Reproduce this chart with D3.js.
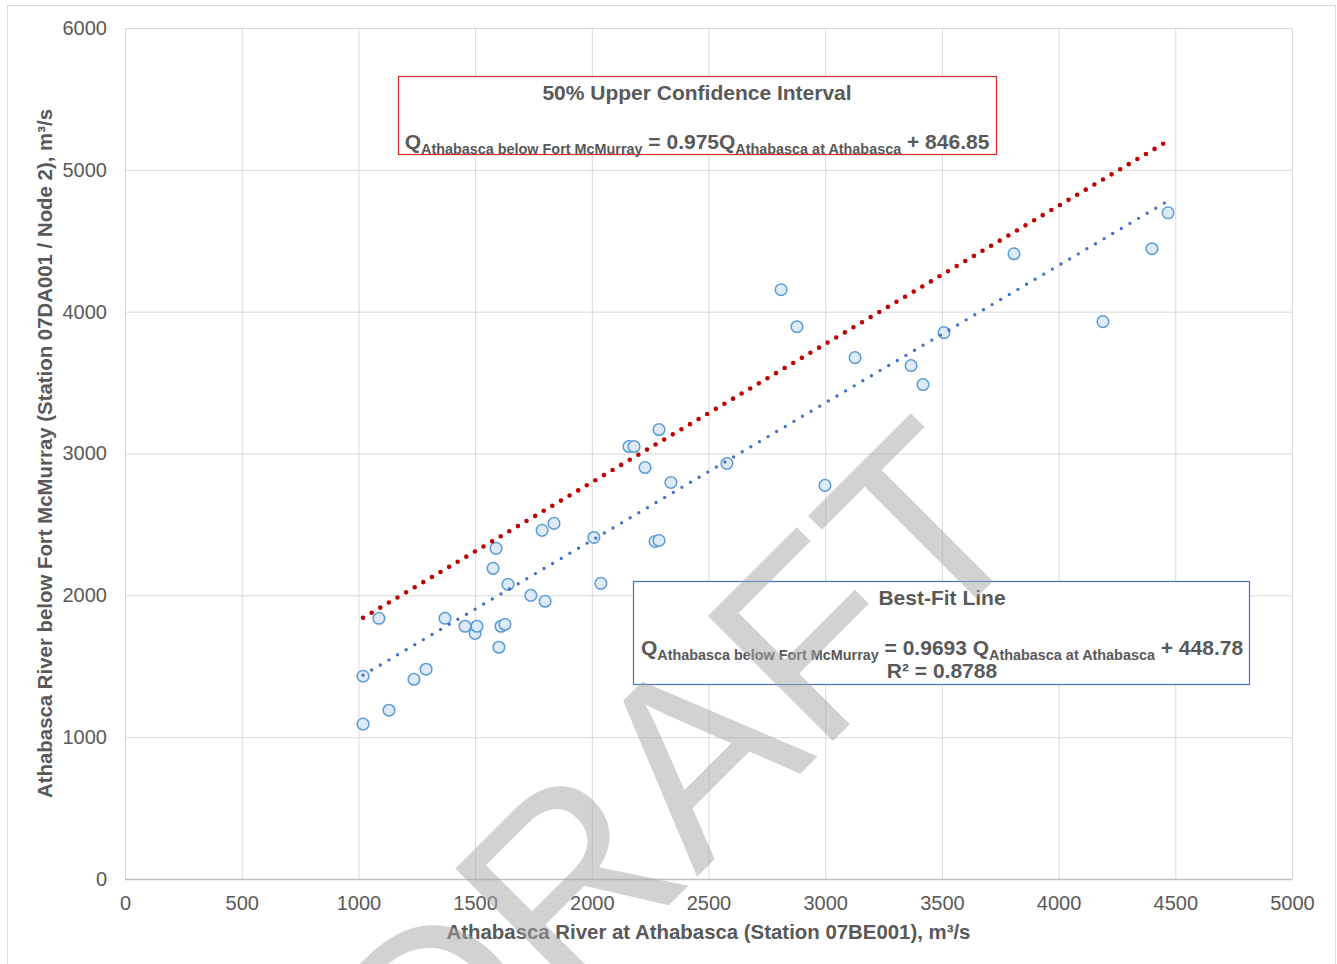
<!DOCTYPE html>
<html>
<head>
<meta charset="utf-8">
<script src="https://cdn.jsdelivr.net/npm/d3@7"></script>
<style>
body{margin:0;background:#fff;}
svg{display:block;font-family:"Liberation Sans",Arial,sans-serif;}
</style>
</head>
<body>
<svg id="chart"></svg>
<script>
// flows, m3/s : Athabasca at Athabasca (x) vs Athabasca below Fort McMurray (y)
const atAthabasca = [1020,1020,1088,1131,1238,1290,1371,1457,1500,1508,1577,1590,1602,1611,1628,1641,1739,1787,1800,1838,
    2009,2039,2159,2181,2228,2271,2288,2288,2339,2579,2811,2879,2999,3128,3368,3419,3509,3809,4190,4400,4469]
const belowFortMcMurray = [1430,1092,1838,1190,1408,1479,1838,1782,1732,1782,2190,2331,1634,1782,1796,2077,2000,2458,1958,2507,
    2408,2084,3049,3049,2901,2380,2387,3169,2796,2930,4155,3894,2775,3676,3620,3486,3852,4408,3930,4444,4697]

const xTicks = [0,500,1000,1500,2000,2500,3000,3500,4000,4500,5000]
const yTicks = [0,1000,2000,3000,4000,5000,6000]

// trendline equations
const fitSlope = 0.9693
const fitIntercept = 448.78
const fitR2 = 0.8788
const upperSlope = 0.975
const upperIntercept = 846.85

const W = 1337, H = 964
const plotL = 125, plotR = 1292, plotT = 28, plotB = 879
const textCol = '#595959'

const svg = d3.select('#chart').attr('width',W).attr('height',H)

// outer chart frame
svg.append('rect')
    .attr('x',7.5).attr('y',5.5).attr('width',1328).attr('height',H)
    .attr('fill','#fff').attr('stroke','#d9d9d9')

const x = d3.scaleLinear().domain([0,5000]).range([plotL,plotR])
const y = d3.scaleLinear().domain([0,6000]).range([plotB,plotT])

// gridlines
svg.append('g').selectAll('line').data(xTicks).join('line')
    .attr('x1',d=>x(d)+0.5).attr('x2',d=>x(d)+0.5)
    .attr('y1',plotT).attr('y2',plotB)
    .attr('stroke','#d9d9d9').attr('stroke-width',1)
svg.append('g').selectAll('line').data(yTicks).join('line')
    .attr('x1',plotL).attr('x2',plotR)
    .attr('y1',d=>y(d)+0.5).attr('y2',d=>y(d)+0.5)
    .attr('stroke',d=>d===0?'#bfbfbf':'#d9d9d9').attr('stroke-width',d=>d===0?1.5:1)

// axes (labels only)
const xAxis = d3.axisBottom(x).tickValues(xTicks).tickFormat(d3.format('d')).tickSize(0).tickPadding(17)
const yAxis = d3.axisLeft(y).tickValues(yTicks).tickFormat(d3.format('d')).tickSize(0).tickPadding(18)

const gx = svg.append('g').attr('transform',`translate(0,${plotB})`).call(xAxis)
const gy = svg.append('g').attr('transform',`translate(${plotL},0)`).call(yAxis)
;[gx,gy].forEach(g=>{
    g.select('.domain').remove()
    g.selectAll('text').attr('font-size',20).attr('fill',textCol)
        .attr('font-family','"Liberation Sans",Arial,sans-serif')
})

// axis titles
svg.append('text')
    .attr('x',(plotL+plotR)/2).attr('y',939)
    .attr('text-anchor','middle').attr('font-size',20.4).attr('font-weight','bold').attr('fill',textCol)
    .text('Athabasca River at Athabasca (Station 07BE001), m³/s')
svg.append('text')
    .attr('transform',`translate(52,${(plotT+plotB)/2}) rotate(-90)`)
    .attr('text-anchor','middle').attr('font-size',20.4).attr('font-weight','bold').attr('fill',textCol)
    .text('Athabasca River below Fort McMurray (Station 07DA001 / Node 2), m³/s')

// points
const pts = atAthabasca.map((v,i)=>[v,belowFortMcMurray[i]])
svg.append('g').selectAll('circle').data(pts).join('circle')
    .attr('cx',d=>x(d[0])).attr('cy',d=>y(d[1])).attr('r',5.8)
    .attr('fill','#deebf7').attr('stroke','#5b9bd5').attr('stroke-width',1.5)

// trendlines span the data range
const xr = d3.extent(atAthabasca)
const line = d3.line().x(d=>x(d[0])).y(d=>y(d[1]))

svg.append('path')
    .datum(xr.map(v=>[v,upperSlope*v+upperIntercept]))
    .attr('d',line).attr('fill','none')
    .attr('stroke','#c00000').attr('stroke-width',4.6)
    .attr('stroke-linecap','round').attr('stroke-dasharray','0 10')

svg.append('path')
    .datum(xr.map(v=>[v,fitSlope*v+fitIntercept]))
    .attr('d',line).attr('fill','none')
    .attr('stroke','#4472c4').attr('stroke-width',3.4)
    .attr('stroke-linecap','round').attr('stroke-dasharray','0 10')

// text boxes
function eqLine(g,cx,cy,coef,intercept,gap){
    const t = g.append('text').attr('x',cx).attr('y',cy)
        .attr('text-anchor','middle').attr('font-weight','bold').attr('fill',textCol)
        .style('white-space','pre')
    t.append('tspan').attr('font-size',21).text('Q')
    t.append('tspan').attr('font-size',14.4).attr('dy',5).text('Athabasca below Fort McMurray')
    t.append('tspan').attr('font-size',21).attr('dy',-5).text(' = ' + coef + gap + 'Q')
    t.append('tspan').attr('font-size',14.4).attr('dy',5).text('Athabasca at Athabasca')
    t.append('tspan').attr('font-size',21).attr('dy',-5).text(' + ' + intercept)
}

const box1 = svg.append('g')
box1.append('rect').attr('x',398.5).attr('y',76.5).attr('width',598).attr('height',78)
    .attr('fill','#fff').attr('stroke','#d92b2b').attr('stroke-width',1.2)
box1.append('text').attr('x',697).attr('y',99.5)
    .attr('text-anchor','middle').attr('font-size',21).attr('font-weight','bold').attr('fill',textCol)
    .text('50% Upper Confidence Interval')
eqLine(box1,697,148.5,upperSlope,upperIntercept,'')

const box2 = svg.append('g')
box2.append('rect').attr('x',633.5).attr('y',581.5).attr('width',616).attr('height',103)
    .attr('fill','#fff').attr('stroke','#4472c4').attr('stroke-width',1.2)
box2.append('text').attr('x',942).attr('y',604.5)
    .attr('text-anchor','middle').attr('font-size',21).attr('font-weight','bold').attr('fill',textCol)
    .text('Best-Fit Line')
eqLine(box2,942,654.5,fitSlope,fitIntercept,' ')
box2.append('text').attr('x',942).attr('y',678)
    .attr('text-anchor','middle').attr('font-size',21).attr('font-weight','bold').attr('fill',textCol)
    .text('R² = ' + fitR2)

// DRAFT watermark
svg.append('text')
    .attr('transform','translate(1040,534) rotate(-45)')
    .attr('text-anchor','end').attr('font-size',257)
    .attr('fill','#a6a6a6').attr('opacity',0.5)
    .text('DRAFT')
</script>
</body>
</html>
